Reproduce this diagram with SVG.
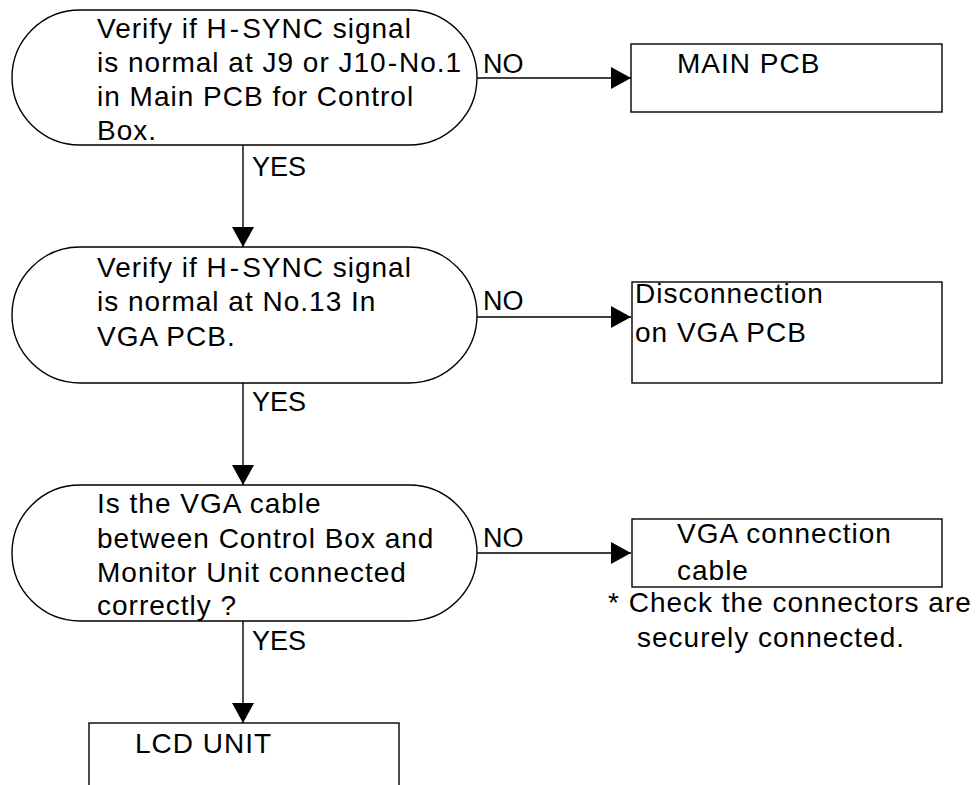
<svg xmlns="http://www.w3.org/2000/svg" width="977" height="785" viewBox="0 0 977 785">
  <style>
    .shape { fill: #ffffff; stroke: #000000; stroke-width: 1.4; }
    .wire { fill: none; stroke: #000000; stroke-width: 1.4; }
    text { font-family: "Liberation Sans", Arial, sans-serif; font-size: 28px; fill: #000000; letter-spacing: 1px; }
    .lbl { font-size: 27px; letter-spacing: 0px; }
  </style>
  <defs>
    <marker id="arrow" viewBox="0 0 20 22" refX="20" refY="11" markerWidth="20" markerHeight="22" markerUnits="userSpaceOnUse" orient="auto">
      <path d="M0,0 L20,11 L0,22 Z" fill="#000000"/>
    </marker>
  </defs>

  <rect width="977" height="785" fill="#ffffff"/>

  <!-- connectors -->
  <g id="connectors">
    <line class="wire" x1="243" y1="145" x2="243" y2="247" marker-end="url(#arrow)"/>
    <line class="wire" x1="243" y1="383" x2="243" y2="485" marker-end="url(#arrow)"/>
    <line class="wire" x1="243" y1="621" x2="243" y2="723" marker-end="url(#arrow)"/>
    <line class="wire" x1="477" y1="78" x2="631" y2="78" marker-end="url(#arrow)"/>
    <line class="wire" x1="477" y1="317" x2="631" y2="317" marker-end="url(#arrow)"/>
    <line class="wire" x1="477" y1="553" x2="631" y2="553" marker-end="url(#arrow)"/>
    <text class="lbl" x="252" y="176">YES</text>
    <text class="lbl" x="252" y="411">YES</text>
    <text class="lbl" x="252" y="650">YES</text>
    <text class="lbl" x="483" y="73">NO</text>
    <text class="lbl" x="483" y="310">NO</text>
    <text class="lbl" x="483" y="547">NO</text>
  </g>

  <!-- decision 1 -->
  <g id="check-main-pcb">
    <rect class="shape" x="12" y="10" width="465" height="135" rx="68" ry="68"/>
    <text x="97" y="38">Verify if H<tspan dx="2">-</tspan><tspan dx="2">SYNC signal</tspan></text>
    <text x="97" y="72">is normal at J9 or J10<tspan dx="1">-</tspan><tspan dx="1">No.1</tspan></text>
    <text x="97" y="106">in Main PCB for Control</text>
    <text x="97" y="140">Box.</text>
  </g>

  <!-- result: main pcb -->
  <g id="main-pcb">
    <rect class="shape" x="631" y="44" width="311" height="68"/>
    <text x="677" y="73">MAIN PCB</text>
  </g>

  <!-- decision 2 -->
  <g id="check-vga-pcb">
    <rect class="shape" x="12" y="247" width="465" height="136" rx="68" ry="68"/>
    <text x="97" y="277">Verify if H<tspan dx="2">-</tspan><tspan dx="2">SYNC signal</tspan></text>
    <text x="97" y="311">is normal at No.13 In</text>
    <text x="97" y="346">VGA PCB.</text>
  </g>

  <!-- result: vga pcb -->
  <g id="vga-pcb">
    <rect class="shape" x="632" y="282" width="310" height="101"/>
    <text x="635" y="303">Disconnection</text>
    <text x="635" y="342">on VGA PCB</text>
  </g>

  <!-- decision 3 -->
  <g id="check-cable">
    <rect class="shape" x="12" y="485" width="465" height="136" rx="68" ry="68"/>
    <text x="97" y="513">Is the VGA cable</text>
    <text x="97" y="548">between Control Box and</text>
    <text x="97" y="582">Monitor Unit connected</text>
    <text x="97" y="615">correctly ?</text>
  </g>

  <!-- result: cable -->
  <g id="vga-cable">
    <rect class="shape" x="632" y="519" width="310" height="68"/>
    <text x="677" y="543">VGA connection</text>
    <text x="677" y="580">cable</text>
    <text x="608" y="612">* Check the connectors are</text>
    <text x="637" y="647">securely connected.</text>
  </g>

  <!-- result: lcd unit -->
  <g id="lcd-unit">
    <rect class="shape" x="89" y="723" width="310" height="80"/>
    <text x="135" y="753">LCD UNIT</text>
  </g>
</svg>
